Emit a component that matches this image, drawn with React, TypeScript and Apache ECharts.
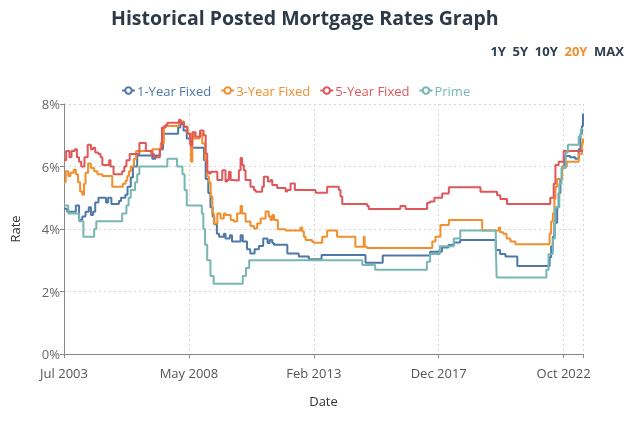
import React, { useEffect, useRef } from "react";
import * as echarts from "echarts";

// x values are months since Jul 2003; each pair is [month, rate %] at a change point
const xTickLabels = ["Jul 2003", "May 2008", "Feb 2013", "Dec 2017", "Oct 2022"];
const seriesNames = ["1-Year Fixed", "3-Year Fixed", "5-Year Fixed", "Prime"];
const seriesColors = ["#4e79a7", "#f28e2b", "#e15759", "#76b7b2"];

const oneYearFixed: [number, number][] = [
  [0, 4.65], [1.5, 4.55], [5.5, 4.75], [7, 4.3], [8.5, 4.4], [10, 4.55], [11.5, 4.7], [12.5, 4.45],
  [13.5, 4.55], [14.5, 4.85], [16, 5.0], [19.5, 4.85], [20.5, 5.0], [22, 4.8], [25.5, 4.9], [26.5, 5.0],
  [28.5, 5.1], [29.5, 5.35], [31, 5.65], [32, 6.0], [34, 6.35], [41, 6.25], [42.5, 6.35], [44.5, 6.55],
  [46, 7.05], [53, 7.25], [54, 7.35], [55.5, 7.15], [57, 6.9], [58.5, 6.75], [59, 6.6], [65, 6.2],
  [65.8, 5.6], [67, 5.15], [68, 4.7], [69, 4.4], [69.8, 4.15], [71, 3.85], [72, 3.75], [74.2, 3.85],
  [75, 3.7], [77, 3.8], [78, 3.6], [82, 3.8], [83, 3.6], [85, 3.35], [86.5, 3.22], [88.5, 3.35],
  [90.5, 3.46], [92.5, 3.7], [94.5, 3.55], [95.5, 3.65], [96.7, 3.55], [97.5, 3.5], [103.7, 3.22],
  [109, 3.12], [113.7, 3.03], [119.6, 3.17], [140, 2.92], [148, 3.15], [170, 3.27], [175.5, 3.41],
  [178.5, 3.49], [181, 3.57], [184, 3.65], [200.5, 3.33], [202.5, 3.2], [205, 3.12], [210.5, 2.82],
  [225.5, 3.1], [226.2, 3.45], [227, 3.75], [227.7, 4.2], [229, 4.7], [229.7, 5.15], [230.5, 5.6],
  [231.3, 6.0], [232.3, 6.34], [235, 6.3], [237.4, 6.25], [239, 6.55], [239.8, 7.05], [240.5, 7.3],
  [241, 7.7],
];

const threeYearFixed: [number, number][] = [
  [0, 5.5], [0.8, 5.85], [2, 5.7], [3, 5.8], [4.5, 5.9], [5.5, 5.75], [6.5, 5.5], [7.5, 5.2],
  [8.5, 5.1], [9.3, 5.45], [10, 5.8], [11.2, 6.1], [12.5, 5.95], [14, 5.85], [15.5, 5.75], [17.8, 5.7],
  [22.4, 5.35], [27.3, 5.45], [28.6, 5.55], [29.4, 5.7], [30.2, 5.85], [31, 6.0], [32.5, 6.25],
  [33.5, 6.5], [40.3, 6.4], [41, 6.55], [44.9, 6.75], [46.4, 7.3], [53.4, 7.44], [55.7, 7.27],
  [57.3, 7.06], [58.5, 6.74], [59, 6.15], [59.6, 7.06], [60.4, 6.9], [63, 7.06], [64.2, 6.74],
  [65.5, 6.2], [66.5, 5.68], [67.3, 5.5], [68.1, 5.04], [68.9, 4.5], [69.6, 4.18], [71.2, 4.5],
  [72.7, 4.34], [74.2, 4.5], [75, 4.45], [77.4, 4.29], [78.9, 4.24], [80.4, 4.5], [82, 4.74],
  [82.7, 4.5], [84.3, 4.24], [86.6, 4.1], [88.2, 4.02], [89.7, 4.18], [91.3, 4.34], [93.6, 4.56],
  [95.1, 4.4], [95.9, 4.29], [96.7, 4.45], [97.5, 4.29], [99.3, 3.99], [102.9, 3.95], [109.8, 4.05],
  [110.6, 3.92], [111.4, 3.75], [112.2, 3.65], [115.2, 3.59], [116, 3.56], [119.9, 3.75],
  [122.2, 3.95], [126.8, 3.75], [135.3, 3.43], [139.2, 3.75], [139.6, 3.43], [140.7, 3.39],
  [171, 3.6], [172.5, 3.75], [174.8, 4.13], [178.7, 4.29], [194.2, 3.95], [201.9, 4.05], [202.5, 3.9],
  [204, 3.85], [205.5, 3.7], [207.3, 3.6], [209.6, 3.51], [225.5, 3.86], [226.2, 4.24], [227, 4.5],
  [227.7, 4.96], [228.2, 5.35], [229, 5.6], [231.3, 6.0], [233.5, 6.15], [239, 6.4], [240.5, 6.75],
  [241, 6.9],
];

const fiveYearFixed: [number, number][] = [
  [0, 6.2], [1, 6.5], [2.5, 6.3], [3.5, 6.5], [5, 6.55], [6, 6.3], [7, 6.15], [8, 6.0], [9.5, 6.3],
  [11, 6.7], [12.5, 6.55], [13.5, 6.6], [14.5, 6.45], [16, 6.4], [17, 6.3], [17.8, 6.05], [21, 6.2],
  [21.6, 6.0], [23, 5.75], [27, 5.85], [28, 6.0], [29, 6.2], [30.5, 6.4], [35, 6.75], [38, 6.5],
  [41, 6.4], [41.8, 6.3], [44.5, 6.55], [45.5, 7.25], [47.2, 7.33], [48, 7.4], [53.4, 7.5],
  [54.2, 7.4], [55.7, 7.27], [57.3, 7.06], [58.5, 6.95], [58.8, 6.68], [59.6, 7.1], [61.1, 6.95],
  [63.2, 7.15], [64.8, 7.0], [65.8, 6.42], [66.5, 5.83], [67.3, 5.78], [68.1, 5.83], [71.2, 5.57],
  [73.5, 5.88], [75, 5.52], [75.8, 5.57], [76.6, 5.83], [77.4, 5.57], [78.1, 5.55], [81.2, 5.88],
  [82, 6.27], [82.7, 6.05], [83.5, 5.88], [84.3, 5.57], [86.6, 5.35], [88.2, 5.25], [89, 5.19],
  [92, 5.35], [92.8, 5.67], [94.7, 5.52], [95.9, 5.57], [96.7, 5.41], [99, 5.31], [102.9, 5.2],
  [103.7, 5.25], [105.2, 5.46], [107.2, 5.25], [116.8, 5.16], [122.2, 5.35], [127.6, 5.25],
  [128.4, 5.04], [129.2, 4.8], [140.8, 4.74], [141.5, 4.64], [156.2, 4.74], [158.6, 4.64],
  [168.6, 4.84], [170, 4.88], [172, 5.0], [175.6, 5.14], [178.7, 5.34], [193.4, 5.19], [201.1, 5.08],
  [202.6, 4.96], [205.7, 4.8], [225.8, 5.0], [227.4, 5.45], [228.2, 6.05], [229.7, 6.15], [232, 6.5],
  [241, 6.5],
];

const prime: [number, number][] = [
  [0, 4.75], [2, 4.5], [7, 4.25], [9, 3.75], [14, 4.0], [15, 4.25], [27, 4.5], [29, 4.75], [30, 5.0],
  [31, 5.25], [33, 5.5], [34, 5.75], [35, 6.0], [48, 6.25], [52.5, 6.0], [55, 5.75], [56, 5.25],
  [57, 4.75], [64, 4.5], [64.7, 4.0], [65.5, 3.5], [66.5, 3.0], [68, 2.5], [69.5, 2.25], [83, 2.5],
  [84.5, 2.75], [86, 3.0], [138.5, 2.85], [144.5, 2.7], [168.5, 2.95], [170, 3.2], [174.5, 3.45],
  [181, 3.7], [184, 3.95], [200.5, 3.45], [200.7, 2.95], [200.9, 2.45], [224, 2.7], [225, 3.2],
  [227, 3.7], [228, 4.7], [230, 5.45], [231, 5.95], [233, 6.45], [234, 6.7], [239, 6.95], [240, 7.2],
  [241, 7.2],
];

const seriesData = [oneYearFixed, threeYearFixed, fiveYearFixed, prime];

const FONT = "'Open Sans', 'Noto Sans', sans-serif";

export default function App() {
  const ref = useRef<HTMLDivElement>(null);
  useEffect(() => {
    if (!ref.current) return;
    const chart = echarts.init(ref.current, undefined, { renderer: "svg" });
    const TICK = 58;
    chart.setOption({
      animation: false,
      textStyle: { fontFamily: FONT },
      title: {
        text: "Historical Posted Mortgage Rates Graph",
        left: 106,
        top: 2,
        textStyle: { fontFamily: FONT, fontSize: 19.5, fontWeight: "bold", color: "#2c3a47" },
      },
      graphic: [
        {
          type: "text",
          right: 16,
          top: 44,
          style: {
            text: "{a|1Y}  {a|5Y}  {a|10Y}  {b|20Y}  {a|MAX}",
            rich: {
              a: { fontFamily: FONT, fontSize: 13, fontWeight: "bold", fill: "#2c3e50" },
              b: { fontFamily: FONT, fontSize: 13, fontWeight: "bold", fill: "#f28e2b" },
            },
          },
        },
      ],
      legend: {
        left: 116,
        top: 79,
        itemWidth: 13,
        itemHeight: 8,
        itemGap: 9,
        textStyle: { fontFamily: FONT, fontSize: 13, padding: [0, 0, 0, -3] },
        data: seriesNames.map((n, i) => ({ name: n, textStyle: { color: seriesColors[i] } })),
      },
      grid: { left: 64, right: 57, top: 104, bottom: 71 },
      xAxis: {
        type: "value",
        min: 0,
        max: 241,
        interval: TICK,
        name: "Date",
        nameLocation: "middle",
        nameGap: 40,
        nameTextStyle: { fontFamily: FONT, fontSize: 13, color: "#333" },
        axisLine: { lineStyle: { color: "#888" } },
        axisTick: { show: true, length: 4, lineStyle: { color: "#888" } },
        axisLabel: {
          color: "#555",
          fontSize: 13,
          margin: 12,
          formatter: (v: number) => {
            const i = Math.round(v / TICK);
            return Math.abs(v - i * TICK) < 0.01 && xTickLabels[i] ? xTickLabels[i] : "";
          },
        },
        splitLine: { show: true, lineStyle: { color: "#d6d6d6", type: [2, 3] } },
      },
      yAxis: {
        type: "value",
        min: 0,
        max: 8,
        interval: 2,
        name: "Rate",
        nameLocation: "middle",
        nameGap: 43,
        nameTextStyle: { fontFamily: FONT, fontSize: 13, color: "#333" },
        axisLine: { show: true, lineStyle: { color: "#888" } },
        axisTick: { show: true, length: 4, lineStyle: { color: "#888" } },
        axisLabel: { color: "#666", fontSize: 13, margin: 4, formatter: "{value}%" },
        splitLine: { show: true, lineStyle: { color: "#d6d6d6", type: [2, 3] } },
      },
      series: seriesNames.map((n, i) => ({
        name: n,
        type: "line",
        step: "end",
        data: seriesData[i],
        symbol: "emptyCircle",
        symbolSize: 4,
        showSymbol: false,
        lineStyle: { width: 2, color: seriesColors[i] },
        itemStyle: { color: seriesColors[i] },
      })),
    });
    return () => chart.dispose();
  }, []);
  return <div ref={ref} style={{ width: 640, height: 425, position: "fixed", left: 0, top: 0 }} />;
}
